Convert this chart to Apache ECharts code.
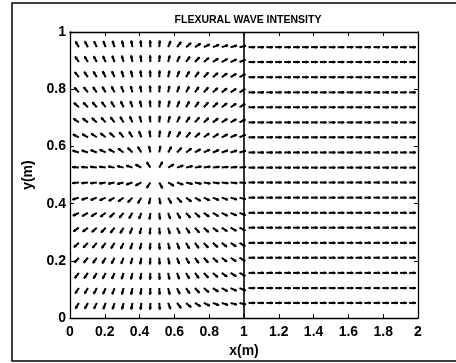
<!DOCTYPE html>
<html>
<head>
<meta charset="utf-8">
<script src="https://cdn.jsdelivr.net/npm/echarts@6/dist/echarts.min.js"></script>
<style>
  html, body { margin: 0; padding: 0; background: #fff; }
  #main { width: 456px; height: 363px; }
</style>
</head>
<body>
<div id="main"></div>
<script>
// grid of arrow tails
var leftColX = [0.051, 0.103, 0.154, 0.205, 0.256, 0.308, 0.359, 0.41, 0.462, 0.513,
                0.564, 0.615, 0.667, 0.718, 0.769, 0.821, 0.872, 0.923, 0.974];
var rightColX = [1.026, 1.077, 1.128, 1.179, 1.231, 1.282, 1.333, 1.385, 1.436, 1.487,
                 1.538, 1.59, 1.641, 1.692, 1.744, 1.795, 1.846, 1.897, 1.949];
var rowY = [0.053, 0.105, 0.158, 0.211, 0.263, 0.316, 0.368, 0.421, 0.474,
            0.526, 0.579, 0.632, 0.684, 0.737, 0.789, 0.842, 0.895, 0.947];

// left plate: arrows leave the source and lean to +x towards the joint
var source = [0.49, 0.5];
var colLean = [0, 0, 0, 0, 0, 0, 0, 0, 0, 0.05, 0.3, 0.6, 0.9, 1.2, 1.5, 1.8, 2.1, 2.4, 2.6];
var rowLean = [1.6, 0.7, 0.38, 0.24, 0.14, 0.1, 0.05, 0, 0, 0, 0, 0.05, 0.1, 0.14, 0.24, 0.38, 0.7, 1.6];
// right plate: all arrows point along +x
var rightDir = [1, 0];
var jointX = 1;

var xTickLabels = ['0', '0.2', '0.4', '0.6', '0.8', '1', '1.2', '1.4', '1.6', '1.8', '2'];
var yTickLabels = ['0', '0.2', '0.4', '0.6', '0.8', '1'];

var arrows = [];
rowY.forEach(function (y, j) {
  leftColX.forEach(function (x, i) {
    var dx = x - source[0], dy = y - source[1];
    var r = Math.sqrt(dx * dx + dy * dy);
    arrows.push([x, y, dx / r + colLean[i] * rowLean[j], dy / r]);
  });
  rightColX.forEach(function (x) {
    arrows.push([x, y, rightDir[0], rightDir[1]]);
  });
});

var ARROW_LEN = 6.6, HEAD = 2.5;

function renderArrow(params, api) {
  var x = api.value(0), y = api.value(1), u = api.value(2), v = api.value(3);
  var p0 = api.coord([x, y]);
  var p1 = api.coord([x + u * 0.001, y + v * 0.001]);
  var ex = p1[0] - p0[0], ey = p1[1] - p0[1];
  var n = Math.sqrt(ex * ex + ey * ey);
  ex /= n; ey /= n;
  var tip = [p0[0] + ex * ARROW_LEN, p0[1] + ey * ARROW_LEN];
  var c = Math.cos(0.45), s = Math.sin(0.45);
  var h1 = [tip[0] - HEAD * (ex * c - ey * s), tip[1] - HEAD * (ey * c + ex * s)];
  var h2 = [tip[0] - HEAD * (ex * c + ey * s), tip[1] - HEAD * (ey * c - ex * s)];
  return {
    type: 'group',
    children: [
      { type: 'polyline', shape: { points: [p0, tip] }, style: { stroke: '#000', lineWidth: 2, fill: null } },
      { type: 'polygon', shape: { points: [tip, h1, h2] }, style: { fill: '#000', stroke: '#000', lineWidth: 1 } }
    ]
  };
}

var labelFont = { fontFamily: 'Liberation Sans, Arial, sans-serif', fontWeight: 'bold', fontSize: 14, color: '#000' };

function tickFmt(list, step) {
  return function (v) { return list[Math.round(v / step)]; };
}

var tickStyle = { show: true, inside: true, length: 4, lineStyle: { color: '#000', width: 1 } };
var lineStyleAxis = { show: true, onZero: false, lineStyle: { color: '#000', width: 1.3 } };

var myChart = echarts.init(document.getElementById('main'));
var option = {
  backgroundColor: '#fff',
  animation: false,
  title: {
    text: 'FLEXURAL WAVE INTENSITY',
    left: 243, top: 10, textAlign: 'center',
    textStyle: { fontFamily: 'Liberation Sans, Arial, sans-serif', fontWeight: 'bold', fontSize: 10.5, color: '#000' }
  },
  graphic: [{
    type: 'rect', silent: true,
    shape: { x: 12, y: 3, width: 450, height: 358 },
    style: { fill: null, stroke: '#000', lineWidth: 1.5 }
  }],
  grid: { left: 70, right: 38, top: 32, bottom: 41 },
  xAxis: [{
    type: 'value', min: 0, max: 2, interval: 0.2, position: 'bottom',
    name: 'x(m)', nameLocation: 'middle', nameGap: 25,
    nameTextStyle: labelFont,
    axisLine: lineStyleAxis,
    axisTick: tickStyle,
    axisLabel: Object.assign({ margin: 7, formatter: tickFmt(xTickLabels, 0.2) }, labelFont),
    splitLine: { show: false }
  }, {
    type: 'value', min: 0, max: 2, interval: 0.2, position: 'top',
    axisLine: lineStyleAxis,
    axisTick: tickStyle,
    axisLabel: { show: false },
    splitLine: { show: false }
  }],
  yAxis: [{
    type: 'value', min: 0, max: 1, interval: 0.2, position: 'left',
    name: 'y(m)', nameLocation: 'middle', nameGap: 32, nameRotate: 90,
    nameTextStyle: labelFont,
    axisLine: lineStyleAxis,
    axisTick: tickStyle,
    axisLabel: Object.assign({ margin: 4, formatter: tickFmt(yTickLabels, 0.2) }, labelFont),
    splitLine: { show: false }
  }, {
    type: 'value', min: 0, max: 1, interval: 0.2, position: 'right',
    axisLine: lineStyleAxis,
    axisTick: tickStyle,
    axisLabel: { show: false },
    splitLine: { show: false }
  }],
  series: [{
    type: 'custom',
    xAxisIndex: 0, yAxisIndex: 0,
    renderItem: renderArrow,
    data: arrows,
    silent: true
  }, {
    type: 'line',
    xAxisIndex: 0, yAxisIndex: 0,
    data: [[jointX, 0], [jointX, 1]],
    symbol: 'none',
    lineStyle: { color: '#000', width: 1.6 },
    silent: true
  }]
};
myChart.setOption(option);
</script>
</body>
</html>
